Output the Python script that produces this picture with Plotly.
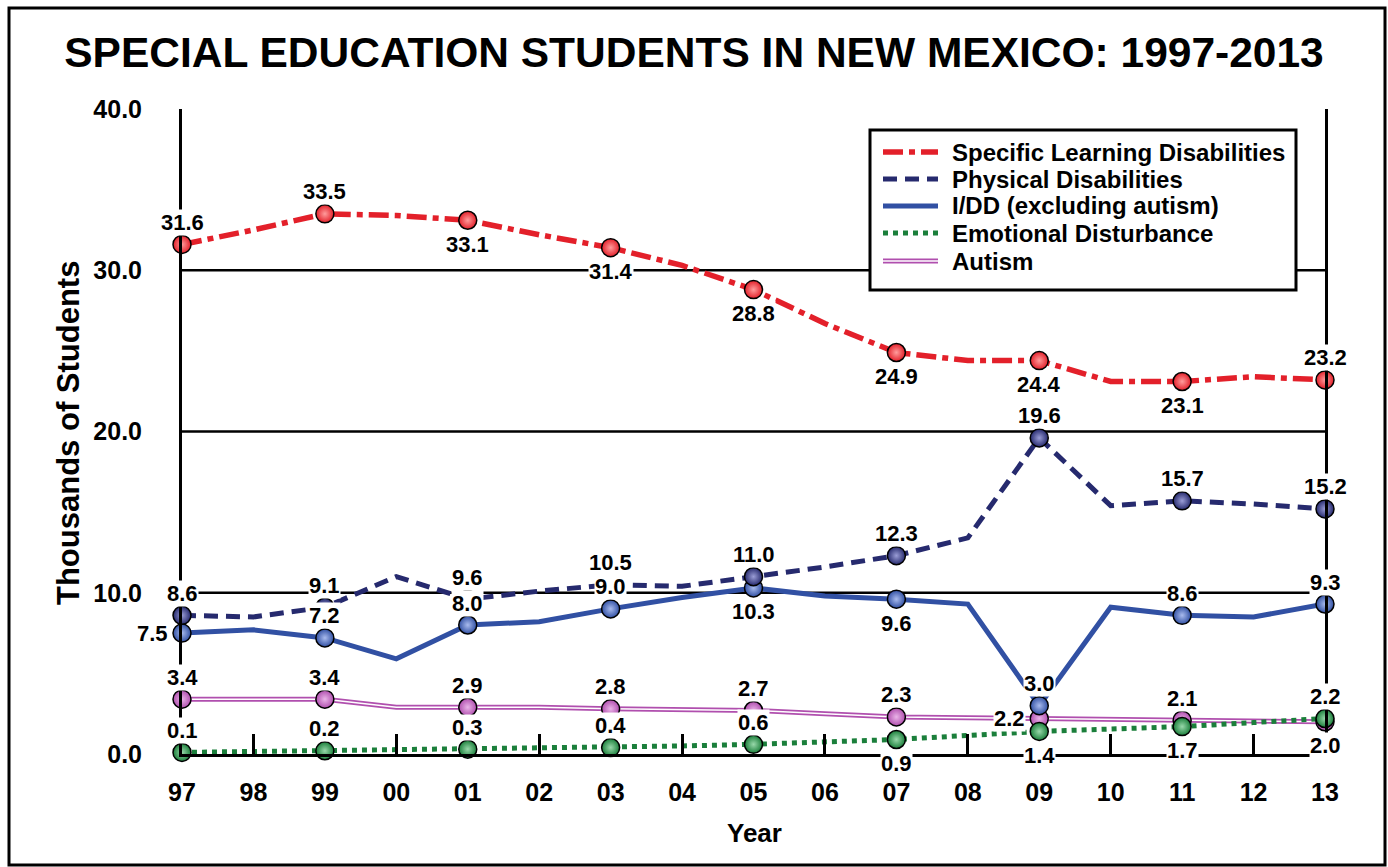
import plotly.graph_objects as go

# ---------------- data ----------------
years = list(range(1997, 2014))
year_labels = ["97", "98", "99", "00", "01", "02", "03", "04", "05",
               "06", "07", "08", "09", "10", "11", "12", "13"]
y_ticks = [0, 10, 20, 30, 40]
grid_values = [10, 20, 30]

sld = [31.6, 32.5, 33.5, 33.4, 33.1, 32.2, 31.4, 30.3, 28.8,
       26.7, 24.9, 24.4, 24.4, 23.1, 23.1, 23.4, 23.2]
phys = [8.6, 8.5, 9.1, 11.0, 9.6, 10.1, 10.5, 10.4, 11.0,
        11.6, 12.3, 13.4, 19.6, 15.4, 15.7, 15.5, 15.2]
idd = [7.5, 7.7, 7.2, 5.9, 8.0, 8.2, 9.0, 9.7, 10.3,
       9.8, 9.6, 9.3, 3.0, 9.1, 8.6, 8.5, 9.3]
emo = [0.1, 0.15, 0.2, 0.25, 0.3, 0.35, 0.4, 0.5, 0.6,
       0.75, 0.9, 1.15, 1.4, 1.55, 1.7, 1.95, 2.2]
autism = [3.4, 3.4, 3.4, 2.9, 2.9, 2.9, 2.8, 2.75, 2.7,
          2.5, 2.3, 2.25, 2.2, 2.15, 2.1, 2.05, 2.0]

names = ["Specific Learning Disabilities", "Physical Disabilities",
         "I/DD (excluding autism)", "Emotional Disturbance", "Autism"]

# ---------------- styles ----------------
FONT = "Liberation Sans, Arial, sans-serif"
W, H = 1388, 867
L, R, T, B = 182, 63, 109, 113
PW, PH = W - L - R, H - T - B

def px(x):
    return (x - L) / PW

def py(y):
    return (H - B - y) / PH

styles = {
    "sld": dict(color="#e3202a", light="#ff9c9c", dash="20px,6px,6px,6px", width=5.5),
    "phys": dict(color="#262a6e", light="#9a9dd6", dash="14px,8px", width=5),
    "idd": dict(color="#3150a3", light="#a9bbee", dash="solid", width=5),
    "emo": dict(color="#1b7f3b", light="#98d8aa", dash="5px,5px", width=5),
    "autism": dict(color="#b04fae", light="#eab4e8", dash="solid", width=5),
}

label_pos = {
    "sld": ["above", "above", "below", "below", "below", "below", "below", "below", "above"],
    "phys": ["above"] * 9,
    "idd": ["left", "above", "above", "above", "below", "below", "above", "above", "above"],
    "emo": ["above", "above", "above", "above", "above", "below", "below", "below", "above"],
    "autism": ["above", "above", "above", "above", "above", "above", "left", "above", "below"],
}

series = {"sld": sld, "phys": phys, "idd": idd, "emo": emo, "autism": autism}
series_names = dict(zip(["sld", "phys", "idd", "emo", "autism"], names))
# the SLD series sits on the overlaid x2 axis (same range) which carries the even-year ticks
axis_of = {"sld": "x2", "phys": "x", "idd": "x", "emo": "x", "autism": "x"}

fig = go.Figure()

# lines
for key in ["phys", "idd", "autism", "emo", "sld"]:
    st = styles[key]
    fig.add_trace(go.Scatter(
        x=years, y=series[key], mode="lines", name=series_names[key],
        xaxis=axis_of[key],
        line=dict(color=st["color"], width=st["width"], dash=st["dash"]),
        showlegend=False, cliponaxis=False, hoverinfo="skip"))
    if key == "autism":
        fig.add_trace(go.Scatter(
            x=years, y=series[key], mode="lines",
            line=dict(color="white", width=1.5),
            showlegend=False, cliponaxis=False, hoverinfo="skip"))

# markers on odd years
for key in ["autism", "emo", "idd", "phys", "sld"]:
    st = styles[key]
    fig.add_trace(go.Scatter(
        x=years[::2], y=series[key][::2], mode="markers", name=series_names[key],
        xaxis=axis_of[key],
        marker=dict(size=18, color=st["color"],
                    gradient=dict(type="radial", color=st["light"]),
                    line=dict(color="black", width=1.5)),
        showlegend=False, cliponaxis=False))

# data labels
annotations = []
for key in ["sld", "phys", "idd", "autism", "emo"]:
    xs = years[::2]
    vs = series[key][::2]
    for xv, v, pos in zip(xs, vs, label_pos[key]):
        a = dict(x=xv, y=v, xref="x", yref="y", text=f"{v:.1f}", showarrow=False,
                 font=dict(family=FONT, size=22, color="black", weight="bold"),
                 bgcolor="white", borderpad=0)
        if pos == "above":
            a.update(yshift=22)
        elif pos == "below":
            a.update(yshift=-24)
        elif pos == "left":
            a.update(xanchor="right", xshift=-13)
        annotations.append(a)

# axis titles
annotations.append(dict(x=px(68), y=py(433), xref="paper", yref="paper",
                        xanchor="center", yanchor="middle",
                        text="Thousands of Students", textangle=-90, showarrow=False,
                        font=dict(family=FONT, size=31, color="black", weight="bold")))
annotations.append(dict(x=px(754), y=py(833), xref="paper", yref="paper",
                        xanchor="center", yanchor="middle",
                        text="Year", showarrow=False,
                        font=dict(family=FONT, size=26, color="black", weight="bold")))

# legend (manual)
shapes = []
legend_rows = [152, 179, 206, 233, 261]
shapes.append(dict(type="rect", xref="paper", yref="paper",
                   x0=px(870), x1=px(1296), y0=py(290), y1=py(130),
                   line=dict(color="black", width=3), fillcolor="white", layer="above"))
for key, ry in zip(["sld", "phys", "idd", "emo", "autism"], legend_rows):
    st = styles[key]
    shapes.append(dict(type="line", xref="paper", yref="paper",
                       x0=px(883), x1=px(938), y0=py(ry), y1=py(ry),
                       line=dict(color=st["color"], width=st["width"],
                                 dash=st["dash"]), layer="above"))
    if key == "autism":
        shapes.append(dict(type="line", xref="paper", yref="paper",
                           x0=px(883), x1=px(938), y0=py(ry), y1=py(ry),
                           line=dict(color="white", width=1.5), layer="above"))
    annotations.append(dict(x=px(950), y=py(ry), xref="paper", yref="paper",
                            text=series_names[key], showarrow=False,
                            xanchor="left", yanchor="middle",
                            font=dict(family=FONT, size=24, color="black", weight="bold")))

# gridlines
for g in grid_values:
    shapes.append(dict(type="line", xref="paper", yref="y", x0=0, x1=1, y0=g, y1=g,
                       line=dict(color="black", width=2.5), layer="below"))

# outer frame
shapes.append(dict(type="rect", xref="paper", yref="paper",
                   x0=px(9), x1=px(1385), y0=py(865), y1=py(8),
                   line=dict(color="black", width=3), layer="below"))

fig.update_layout(
    width=W, height=H,
    margin=dict(l=L, r=R, t=T, b=B),
    paper_bgcolor="white", plot_bgcolor="white",
    title=dict(text="SPECIAL EDUCATION STUDENTS IN NEW MEXICO: 1997-2013",
               x=0.5, xref="container", xanchor="center",
               y=1 - 52 / H, yref="container", yanchor="middle",
               font=dict(family=FONT, size=42.5, color="black", weight="bold")),
    xaxis=dict(range=[1997, 2013], tickvals=years, ticktext=year_labels,
               showgrid=False, zeroline=False, showline=True, linecolor="black",
               linewidth=3, mirror=False, ticks="", ticklabelstandoff=14,
               tickfont=dict(family=FONT, size=25, color="black", weight="bold")),
    xaxis2=dict(range=[1997, 2013], overlaying="x", anchor="y", side="bottom",
                tickvals=years[1::2], showticklabels=False,
                showgrid=False, zeroline=False, showline=False,
                ticks="inside", ticklen=20, tickwidth=2.5, tickcolor="black"),
    yaxis=dict(range=[0, 40], tickvals=y_ticks, tickformat=".1f",
               showgrid=False, zeroline=False, showline=True, linecolor="black",
               linewidth=3, mirror=True, ticks="", ticklabelstandoff=32,
               tickfont=dict(family=FONT, size=25, color="black", weight="bold")),
    shapes=shapes,
    annotations=annotations,
    showlegend=False,
)

fig.write_html("out.html", config={"displayModeBar": False},
               post_script="document.body.style.margin='0';")
